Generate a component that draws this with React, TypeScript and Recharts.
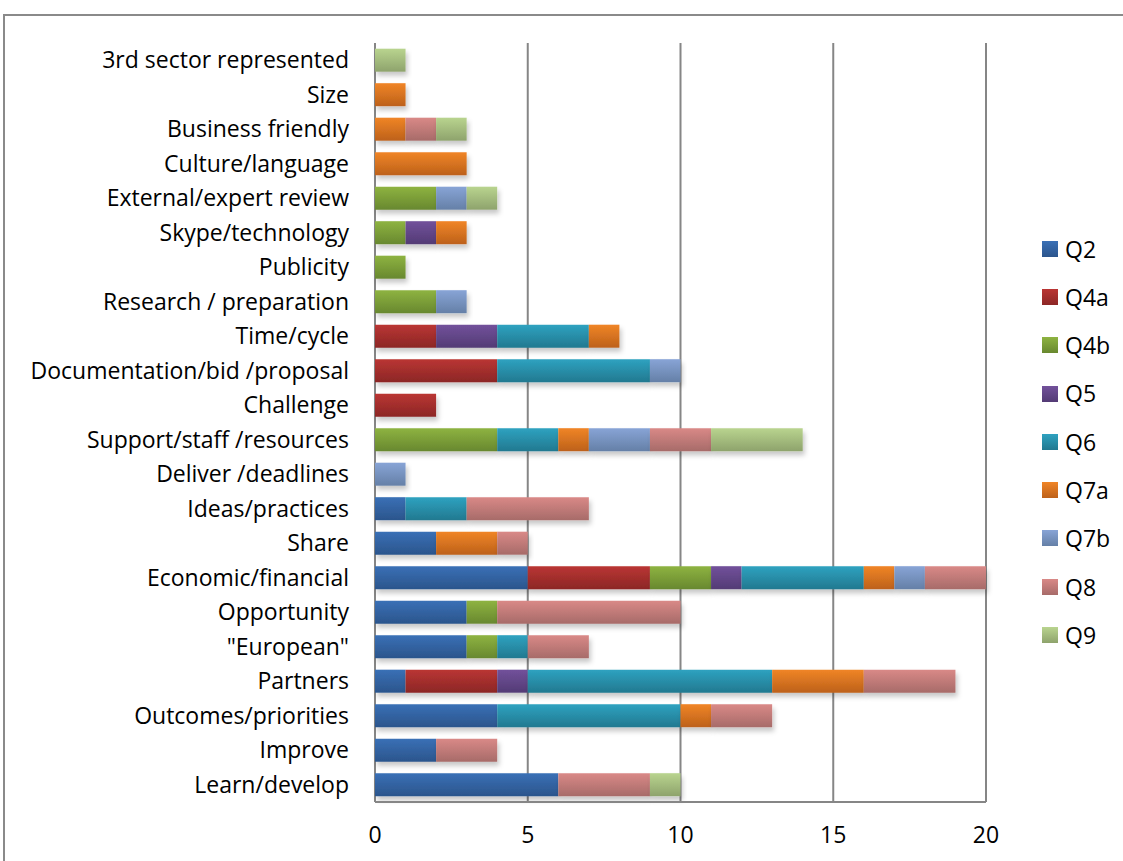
import React from "react";
import { BarChart, Bar, XAxis, YAxis, CartesianGrid } from "recharts";

const categories = [
  "3rd sector represented",
  "Size",
  "Business friendly",
  "Culture/language",
  "External/expert review",
  "Skype/technology",
  "Publicity",
  "Research / preparation",
  "Time/cycle",
  "Documentation/bid /proposal",
  "Challenge",
  "Support/staff /resources",
  "Deliver /deadlines",
  "Ideas/practices",
  "Share",
  "Economic/financial",
  "Opportunity",
  "\"European\"",
  "Partners",
  "Outcomes/priorities",
  "Improve",
  "Learn/develop",
];

const seriesNames = ["Q2", "Q4a", "Q4b", "Q5", "Q6", "Q7a", "Q7b", "Q8", "Q9"];

const q2 = [0, 0, 0, 0, 0, 0, 0, 0, 0, 0, 0, 0, 0, 1, 2, 5, 3, 3, 1, 4, 2, 6];
const q4a = [0, 0, 0, 0, 0, 0, 0, 0, 2, 4, 2, 0, 0, 0, 0, 4, 0, 0, 3, 0, 0, 0];
const q4b = [0, 0, 0, 0, 2, 1, 1, 2, 0, 0, 0, 4, 0, 0, 0, 2, 1, 1, 0, 0, 0, 0];
const q5 = [0, 0, 0, 0, 0, 1, 0, 0, 2, 0, 0, 0, 0, 0, 0, 1, 0, 0, 1, 0, 0, 0];
const q6 = [0, 0, 0, 0, 0, 0, 0, 0, 3, 5, 0, 2, 0, 2, 0, 4, 0, 1, 8, 6, 0, 0];
const q7a = [0, 1, 1, 3, 0, 1, 0, 0, 1, 0, 0, 1, 0, 0, 2, 1, 0, 0, 3, 1, 0, 0];
const q7b = [0, 0, 0, 0, 1, 0, 0, 1, 0, 1, 0, 2, 1, 0, 0, 1, 0, 0, 0, 0, 0, 0];
const q8 = [0, 0, 1, 0, 0, 0, 0, 0, 0, 0, 0, 2, 0, 4, 1, 2, 6, 2, 3, 2, 2, 3];
const q9 = [1, 0, 1, 0, 1, 0, 0, 0, 0, 0, 0, 3, 0, 0, 0, 0, 0, 0, 0, 0, 0, 1];

const xTicks = [0, 5, 10, 15, 20];

const seriesValues = [q2, q4a, q4b, q5, q6, q7a, q7b, q8, q9];

const gradients: Record<string, [string, string]> = {
  Q2: ["#3A70B6", "#2B558C"],
  Q4a: ["#BA3533", "#8C2726"],
  Q4b: ["#8EB341", "#68882F"],
  Q5: ["#72519B", "#533B75"],
  Q6: ["#2EA2C0", "#227990"],
  Q7a: ["#F08526", "#BD611B"],
  Q7b: ["#88A4D6", "#6580A7"],
  Q8: ["#D98987", "#A76B69"],
  Q9: ["#B9D48F", "#8EA36C"],
};

const data = categories.map((name, i) => {
  const row: Record<string, string | number> = { name };
  seriesNames.forEach((s, j) => {
    row[s] = seriesValues[j][i];
  });
  return row;
});

const FONT = "'Open Sans', 'Noto Sans', sans-serif";
const FS = 23;

export default function App() {
  return (
    <div style={{ position: "absolute", left: 0, top: 0, width: 1123, height: 861, background: "#fff", overflow: "hidden" }}>
      <div
        style={{
          position: "absolute",
          left: 3,
          top: 14,
          width: 1140,
          height: 870,
          border: "2px solid #8a8a8a",
          boxSizing: "border-box",
        }}
      />
      <BarChart
        width={1123}
        height={861}
        data={data}
        layout="vertical"
        margin={{ top: 43, right: 137, bottom: 29, left: 0 }}
        barCategoryGap="16.5%"
        style={{ position: "absolute", left: 0, top: 0 }}
      >
        <defs>
          {seriesNames.map((s) => (
            <linearGradient key={s} id={`grad-${s}`} x1="0" y1="0" x2="0" y2="1">
              <stop offset="0%" stopColor={gradients[s][0]} />
              <stop offset="100%" stopColor={gradients[s][1]} />
            </linearGradient>
          ))}
          <filter id="barShadow" x="-10%" y="-20%" width="130%" height="170%">
            <feDropShadow dx="2" dy="4" stdDeviation="2.5" floodColor="#000" floodOpacity="0.22" />
          </filter>
        </defs>
        <CartesianGrid horizontal={false} stroke="#868686" strokeWidth={2} />
        <XAxis
          type="number"
          domain={[0, 20]}
          ticks={xTicks}
          axisLine={{ stroke: "#868686", strokeWidth: 2 }}
          tickLine={false}
          tickMargin={19}
          height={30}
          tick={{ fill: "#000", fontSize: FS, fontFamily: FONT }}
        />
        <YAxis
          type="category"
          dataKey="name"
          width={375}
          axisLine={false}
          tickLine={false}
          tickMargin={20}
          interval={0}
          tick={{ fill: "#000", fontSize: FS, fontFamily: FONT }}
        />
        {seriesNames.map((s) => (
          <Bar
            key={s}
            dataKey={s}
            stackId="a"
            fill={`url(#grad-${s})`}
            filter="url(#barShadow)"
            isAnimationActive={false}
          />
        ))}
      </BarChart>
      <div
        style={{
          position: "absolute",
          left: 1042,
          top: 224.5,
          fontFamily: FONT,
          fontSize: FS,
          color: "#000",
        }}
      >
        {seriesNames.map((s) => (
          <div key={s} style={{ display: "flex", alignItems: "center", height: 48.3 }}>
            <div
              style={{
                width: 16,
                height: 16,
                marginRight: 7,
                background: `linear-gradient(${gradients[s][0]}, ${gradients[s][1]})`,
              }}
            />
            <span style={{ lineHeight: "48.3px" }}>{s}</span>
          </div>
        ))}
      </div>
    </div>
  );
}
